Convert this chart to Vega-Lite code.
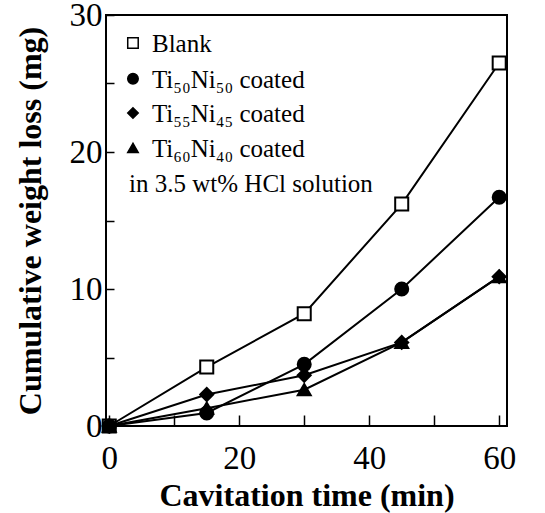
{
  "$schema": "https://vega.github.io/schema/vega-lite/v6.json",
  "width": 401,
  "height": 411,
  "autosize": {"type": "none"},
  "padding": {"left": 106, "top": 15, "right": 38, "bottom": 87},
  "background": "white",
  "config": {
    "font": "Liberation Serif",
    "view": {"stroke": "black", "strokeWidth": 2},
    "axis": {
      "grid": false,
      "domain": false,
      "tickColor": "black",
      "tickWidth": 1.5,
      "labelColor": "black",
      "labelFont": "Liberation Serif",
      "labelFontSize": 33,
      "titleFont": "Liberation Serif",
      "titleFontSize": 32,
      "titleFontWeight": "bold",
      "titleColor": "black"
    }
  },
  "datasets": {
    "loss": [
      {"sample": "Blank", "time": 0, "loss": 0},
      {"sample": "Blank", "time": 15, "loss": 4.3},
      {"sample": "Blank", "time": 30, "loss": 8.2},
      {"sample": "Blank", "time": 45, "loss": 16.2},
      {"sample": "Blank", "time": 60, "loss": 26.5},
      {"sample": "Ti₅₀Ni₅₀ coated", "time": 0, "loss": 0},
      {"sample": "Ti₅₀Ni₅₀ coated", "time": 15, "loss": 0.95},
      {"sample": "Ti₅₀Ni₅₀ coated", "time": 30, "loss": 4.5},
      {"sample": "Ti₅₀Ni₅₀ coated", "time": 45, "loss": 10.0},
      {"sample": "Ti₅₀Ni₅₀ coated", "time": 60, "loss": 16.7},
      {"sample": "Ti₅₅Ni₄₅ coated", "time": 0, "loss": 0},
      {"sample": "Ti₅₅Ni₄₅ coated", "time": 15, "loss": 2.3},
      {"sample": "Ti₅₅Ni₄₅ coated", "time": 30, "loss": 3.7},
      {"sample": "Ti₅₅Ni₄₅ coated", "time": 45, "loss": 6.1},
      {"sample": "Ti₅₅Ni₄₅ coated", "time": 60, "loss": 10.9},
      {"sample": "Ti₆₀Ni₄₀ coated", "time": 0, "loss": 0},
      {"sample": "Ti₆₀Ni₄₀ coated", "time": 15, "loss": 1.3},
      {"sample": "Ti₆₀Ni₄₀ coated", "time": 30, "loss": 2.65},
      {"sample": "Ti₆₀Ni₄₀ coated", "time": 45, "loss": 6.1},
      {"sample": "Ti₆₀Ni₄₀ coated", "time": 60, "loss": 10.9}
    ],
    "key": [
      {"sample": "Blank", "time": 3.65, "loss": 27.95},
      {"sample": "Ti₅₀Ni₅₀ coated", "time": 3.65, "loss": 25.35},
      {"sample": "Ti₅₅Ni₄₅ coated", "time": 3.65, "loss": 22.85},
      {"sample": "Ti₆₀Ni₄₀ coated", "time": 3.65, "loss": 20.3}
    ],
    "note": [
      {"time": 3.05, "loss": 17.7, "note": "in 3.5 wt% HCl solution"}
    ]
  },
  "encoding": {
    "x": {
      "field": "time",
      "type": "quantitative",
      "scale": {"domain": [-0.5, 61.2], "nice": false, "zero": false},
      "axis": {
        "title": "Cavitation time (min)",
        "values": [0, 10, 20, 30, 40, 50, 60],
        "labelExpr": "datum.value % 20 === 0 ? datum.label : ''",
        "tickSize": -11,
        "labelPadding": 27,
        "titlePadding": 5
      }
    },
    "y": {
      "field": "loss",
      "type": "quantitative",
      "scale": {"domain": [0, 30], "nice": false},
      "axis": {
        "title": "Cumulative weight loss (mg)",
        "values": [0, 5, 10, 15, 20, 25, 30],
        "labelExpr": "datum.value % 10 === 0 ? datum.label : ''",
        "tickSize": -8,
        "labelPadding": 12,
        "titlePadding": 22
      }
    },
    "shape": {
      "field": "sample",
      "type": "nominal",
      "scale": {
        "domain": ["Blank", "Ti₅₀Ni₅₀ coated", "Ti₅₅Ni₄₅ coated", "Ti₆₀Ni₄₀ coated"],
        "range": ["square", "circle", "diamond", "triangle-up"]
      },
      "legend": null
    }
  },
  "layer": [
    {
      "data": {"name": "loss"},
      "mark": {"type": "line", "color": "black", "strokeWidth": 2},
      "encoding": {"detail": {"field": "sample"}, "shape": null}
    },
    {
      "data": {"name": "loss"},
      "mark": {"type": "point", "filled": true, "stroke": "black", "strokeWidth": 2, "opacity": 1, "size": 170},
      "encoding": {
        "fill": {"condition": {"test": "datum.sample === 'Blank'", "value": "white"}, "value": "black"}
      }
    },
    {
      "data": {"name": "key"},
      "mark": {"type": "point", "filled": true, "stroke": "black", "strokeWidth": 1.5, "opacity": 1, "size": 110},
      "encoding": {
        "fill": {"condition": {"test": "datum.sample === 'Blank'", "value": "white"}, "value": "black"}
      }
    },
    {
      "data": {"name": "key"},
      "mark": {"type": "text", "align": "left", "baseline": "middle", "dx": 19, "dy": 1, "font": "Liberation Serif", "fontSize": 25, "color": "black"},
      "encoding": {"text": {"field": "sample"}, "shape": null}
    },
    {
      "data": {"name": "note"},
      "mark": {"type": "text", "align": "left", "baseline": "middle", "font": "Liberation Serif", "fontSize": 25, "color": "black"},
      "encoding": {"text": {"field": "note"}, "shape": null}
    }
  ]
}
